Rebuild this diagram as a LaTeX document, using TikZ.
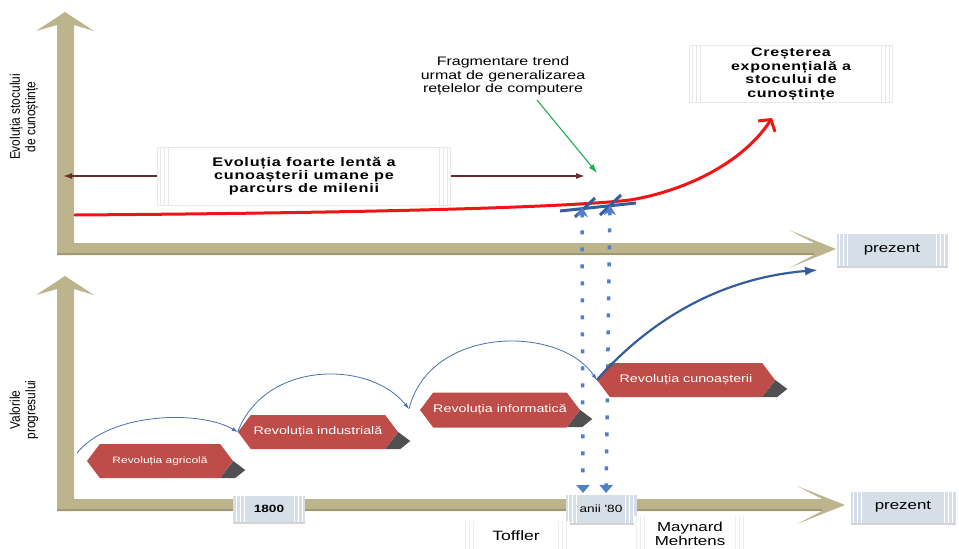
\documentclass[tikz,border=0pt]{standalone}
\usepackage{fontspec}
\setmainfont{Liberation Sans}
\newfontfamily\wf[FakeStretch=1.3]{Liberation Sans}
\newfontfamily\wfs[FakeStretch=1.3,LetterSpace=6]{Liberation Sans}
\newfontfamily\nf[FakeStretch=0.85]{Liberation Sans}
\usetikzlibrary{arrows.meta,shapes.symbols,calc,shadows}

\definecolor{axisc}{RGB}{188,180,140}
\definecolor{axisdk}{RGB}{160,152,112}
\definecolor{hexc}{RGB}{190,76,72}
\definecolor{shadc}{RGB}{80,80,80}
\definecolor{bluec}{RGB}{70,112,178}
\definecolor{bluedk}{RGB}{52,92,158}
\definecolor{dotc}{RGB}{80,128,200}
\definecolor{brownc}{RGB}{110,42,42}
\definecolor{greenc}{RGB}{30,175,80}
\definecolor{boxc}{RGB}{214,222,232}
\definecolor{stripec}{RGB}{232,232,232}
\definecolor{curvered}{RGB}{240,20,20}

\tikzset{
  stripes/.style={path picture={
    \foreach \d in {3,7,11}{
      \draw[#1,line width=1pt] ([xshift=\d pt]path picture bounding box.north west) -- ([xshift=\d pt]path picture bounding box.south west);
      \draw[#1,line width=1pt] ([xshift=-\d pt]path picture bounding box.north east) -- ([xshift=-\d pt]path picture bounding box.south east);
    }}},
  hexbox/.style={signal, signal to=east and west, signal pointer angle=106, fill=hexc, text=white, inner sep=0pt},
  datebox/.style={fill=boxc, inner sep=0pt, stripes=white, drop shadow={opacity=0.35, shadow xshift=0pt, shadow yshift=-2pt}},
  notebox/.style={fill=white, draw=stripec, inner sep=0pt, stripes=stripec},
  faintbox/.style={fill=white, inner sep=0pt, stripes={stripec!70}},
  arcthin/.style={bluec, line width=0.8pt, -{Latex[length=6pt,width=4pt]}},
  brownarrow/.style={brownc, line width=1.5pt, -{Latex[length=9pt,width=6pt]}},
  dotline/.style={dotc, line width=3.5pt, dash pattern=on 4pt off 13pt},
  bluemark/.style={bluedk, line width=3pt},
}

\begin{document}
\begin{tikzpicture}[x=1pt,y=-1pt]
\useasboundingbox (0,0) rectangle (959,549);

% ---------- axes (top chart)
\fill[axisc] (57,255) -- (57,25) -- (36,31) -- (65,12) -- (94,31) -- (74,25) -- (74,255) -- cycle;
\fill[axisc] (57,243) -- (814,243) -- (789,230) -- (836,249) -- (789,268) -- (814,255) -- (57,255) -- cycle;
\fill[axisdk] (57,253) rectangle (814,255);
% ---------- axes (bottom chart)
\fill[axisc] (57,511) -- (57,289) -- (36,295) -- (65,276) -- (94,295) -- (74,289) -- (74,511) -- cycle;
\fill[axisc] (57,499) -- (822,499) -- (797,486) -- (845,505) -- (797,524) -- (822,511) -- (57,511) -- cycle;
\fill[axisdk] (57,509) rectangle (822,511);

% ---------- axis labels
\node[rotate=90, align=center, font=\nf\fontsize{14}{15.5}\selectfont] (ylab1) at (24,117) {Evoluția stocului\\de cunoștințe};
\node[rotate=90, align=center, font=\nf\fontsize{14}{15.5}\selectfont] (ylab2) at (24,410) {Valorile\\progresului};

% ---------- top chart boxes and texts
\node[datebox, minimum width=111pt, minimum height=32pt, font=\wf\fontsize{13}{15}\selectfont] (pz1) at (892,250) {prezent};
\node[notebox, minimum width=293pt, minimum height=58pt, align=center, font=\wfs\bfseries\fontsize{12.5}{13}\selectfont] (slow) at (304,176) {Evoluția foarte lentă a\\cunoașterii umane pe\\parcurs de milenii};
\node[notebox, minimum width=203pt, minimum height=57pt, align=center, font=\wfs\bfseries\fontsize{12.3}{13.5}\selectfont] (exp) at (791,74) {Creșterea\\exponențială a\\stocului de\\cunoștințe};
\node[align=center, font=\wf\fontsize{12.3}{13.7}\selectfont] (frag) at (503,76) {Fragmentare trend\\urmat de generalizarea\\rețelelor de computere};

\coordinate (lt) at (63,176);
\coordinate (rt) at (585,176);
\draw[brownarrow] (slow.west) -- (lt);
\draw[brownarrow] (slow.east) -- (rt);

\coordinate (gs) at (537,100);
\coordinate (ge) at (597,173);
\draw[greenc, line width=1.1pt, -{Latex[length=9pt,width=6pt]}] (gs) -- (ge);

% red curve
\coordinate (rc0) at (75,215);
\coordinate (rc1) at (630,200);
\coordinate (rc2) at (772,118);
\draw[curvered, line width=3pt, line cap=round, -{Straight Barb[length=8pt,width=20pt]}] (rc0) .. controls (350,213) and (560,208) .. (rc1) .. controls (690,190) and (745,160) .. (rc2);

% blue marks on curve
\coordinate (bm0) at (560,211);
\coordinate (bm1) at (636,203);
\draw[bluemark] (bm0) -- (bm1);
\coordinate (s1a) at (575,217); \coordinate (s1b) at (595,198);
\coordinate (s2a) at (600,215); \coordinate (s2b) at (621,195);
\draw[bluemark] (s1a) -- (s1b);
\draw[bluemark] (s2a) -- (s2b);

% ---------- bottom chart boxes
\node[datebox, minimum width=105pt, minimum height=31pt, font=\wf\fontsize{13}{15}\selectfont] (pz2) at (903,507) {prezent};
\node[datebox, minimum width=72pt, minimum height=26pt, font=\wf\bfseries\fontsize{10.5}{12}\selectfont] (d1800) at (269,509) {1800};
\node[datebox, minimum width=71pt, minimum height=28pt, font=\wf\fontsize{10.5}{12}\selectfont] (d80) at (601,509) {anii '80};

\node[faintbox, minimum width=107pt, minimum height=30pt, font=\wf\fontsize{13.5}{15}\selectfont] (toff) at (516,536) {Toffler};
\node[faintbox, minimum width=113pt, minimum height=36pt, align=center, font=\wf\fontsize{13}{14}\selectfont] (mm) at (690,534) {Maynard\\Mehrtens};

% dotted double arrows
\coordinate (t1) at (582,207); \coordinate (b1) at (583,493);
\coordinate (t2) at (610,205); \coordinate (b2) at (606,493);
\draw[dotline, {Stealth[length=10pt,width=12pt,inset=3pt]}-{Triangle[length=8pt,width=13pt]}] (t1) -- (b1);
\draw[dotline, {Stealth[length=10pt,width=12pt,inset=3pt]}-{Triangle[length=8pt,width=13pt]}] (t2) -- (b2);

% ---------- revolution shapes
\node[hexbox, minimum width=146pt, minimum height=34pt, font=\wf\fontsize{9.2}{10}\selectfont] (agr) at (160,461) {Revoluția agricolă};
\node[hexbox, minimum width=160pt, minimum height=34pt, font=\wf\fontsize{11}{12}\selectfont] (ind) at (318,432) {Revoluția industrială};
\node[hexbox, minimum width=159pt, minimum height=35pt, font=\wf\fontsize{11}{12}\selectfont] (inf) at (500,410) {Revoluția informatică};
\node[hexbox, minimum width=178pt, minimum height=34pt, font=\wf\fontsize{11}{12}\selectfont] (cun) at (686,380) {Revoluția cunoașterii};

\foreach \n in {agr,ind,inf,cun}{
  \fill[shadc] (\n.east) -- ($(\n.east)+(12,9)$) -- ($(\n.east)+(2,17)$) -- ($(\n.east)+(-13,17)$) -- cycle;
}

% arcs
\coordinate (a0) at (77,453);
\coordinate (a2e) at (409,409);
\coordinate (a4e) at (818,270);
\draw[arcthin] (a0) .. controls (110,412) and (200,410) .. (ind.west);
\draw[arcthin] (ind.west) .. controls (265,360) and (370,360) .. (a2e);
\draw[arcthin] (a2e) .. controls (430,325) and (560,325) .. (cun.west);
\draw[bluedk, line width=2.2pt, -{Latex[length=13pt,width=9pt]}] (cun.west) .. controls (650,320) and (720,278) .. (a4e);

\end{tikzpicture}
\end{document}
